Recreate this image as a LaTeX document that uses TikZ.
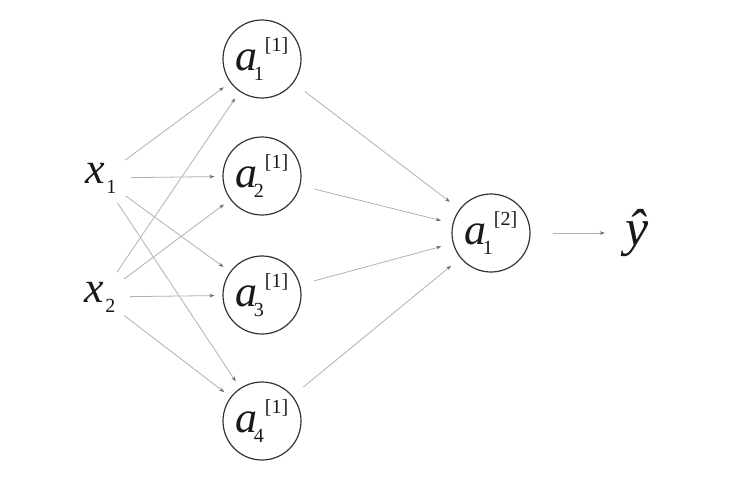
\documentclass[tikz,border=0pt]{standalone}
\usepackage{fontspec}
\setmainfont{Liberation Serif}
\usetikzlibrary{arrows.meta}
\newcommand\subsz{\fontsize{20}{20}\selectfont}
\newcommand\lbl[3]{\textit{#1}\rlap{\kern-4pt\raisebox{-10pt}{\subsz #3}}\kern7pt\raisebox{19pt}{\subsz #2}}
\newcommand\xin[1]{\textit{x}\kern1pt\raisebox{-10pt}{\subsz #1}}
\begin{document}
\begin{tikzpicture}[x=1pt,y=-1pt,
  neuron/.style={circle,draw=black!80,line width=1.2pt,minimum size=78pt,inner sep=0pt,text=black!90,font=\fontsize{44}{44}\selectfont},
  inp/.style={circle,minimum size=60pt,inner sep=0pt,text=black!90,font=\fontsize{44}{44}\selectfont},
  conn/.style={draw=black!30,line width=0.8pt,-{Stealth[length=5pt,width=3.5pt,color=black!60]}},
]
\useasboundingbox[fill=white] (0,0) rectangle (752,485);
\node[inp] (x1) at (101,178) {\xin{1}};
\node[inp] (x2) at (100,297) {\xin{2}};
\node[neuron] (a1) at (262,59) {\lbl{a}{[1]}{1}};
\node[neuron] (a2) at (262,176) {\lbl{a}{[1]}{2}};
\node[neuron] (a3) at (262,295) {\lbl{a}{[1]}{3}};
\node[neuron] (a4) at (262,421) {\lbl{a}{[1]}{4}};
\node[neuron] (o) at (491,233) {\lbl{a}{[2]}{1}};
\node[inp] (yhat) at (637,233) {\fontsize{52}{52}\selectfont\textit{ŷ}};
\foreach \i in {1,2} \foreach \j in {1,...,4} \draw[conn,shorten >=8pt] (x\i) -- (a\j);
\foreach \j in {1,...,4} \draw[conn,shorten <=14pt,shorten >=12pt] (a\j) -- (o);
\draw[conn,shorten <=22pt,shorten >=2pt] (o) -- (yhat);
\end{tikzpicture}
\end{document}
